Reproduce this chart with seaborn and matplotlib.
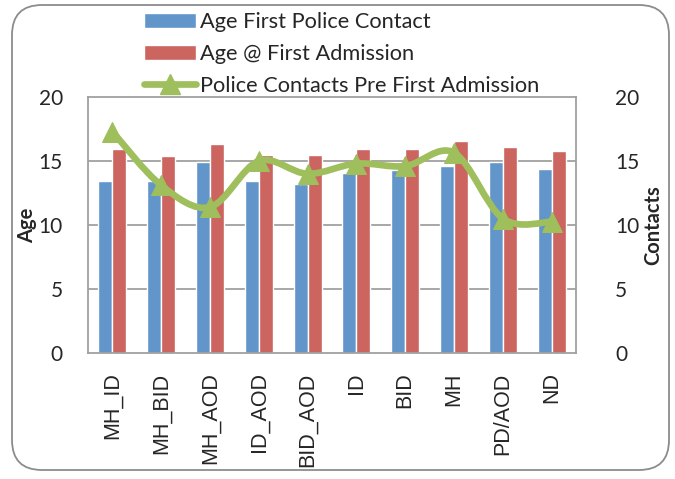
import numpy as np
import pandas as pd
import matplotlib
matplotlib.use('Agg')
import matplotlib.pyplot as plt
import seaborn as sns
from matplotlib.path import Path
from matplotlib.patches import PathPatch, FancyBboxPatch, Patch
from matplotlib.lines import Line2D

groups = ['MH_ID', 'MH_BID', 'MH_AOD', 'ID_AOD', 'BID_AOD', 'ID', 'BID', 'MH', 'PD/AOD', 'ND']
age_first_police = [13.4, 13.4, 14.9, 13.4, 13.2, 14.1, 14.3, 14.6, 14.95, 14.4]
age_first_admission = [15.9, 15.4, 16.3, 15.5, 15.5, 15.9, 15.9, 16.6, 16.1, 15.8]
police_contacts = [17.3, 13.1, 11.4, 15.0, 14.0, 14.8, 14.6, 15.65, 10.5, 10.25]

series_names = ['Age First Police Contact', 'Age @ First Admission', 'Police Contacts Pre First Admission']
blue, red, green = '#6296CA', '#CC645F', '#9FBE5C'
grid_col = '#A0A0A0'

df = pd.DataFrame({
    'group': groups * 2,
    'value': age_first_police + age_first_admission,
    'series': [series_names[0]] * len(groups) + [series_names[1]] * len(groups),
})

sns.set_style('white')
plt.rcParams['font.family'] = ['Lato', 'DejaVu Sans']

fig = plt.figure(figsize=(6.75, 4.79), dpi=100)
ax = fig.add_axes([88 / 675, 1 - 353 / 479, 488 / 675, 256 / 479])

sns.barplot(data=df, x='group', y='value', hue='series', palette=[blue, red],
            width=0.57, gap=0, saturation=1, legend=False, ax=ax, zorder=2)
ax.set_ylim(0, 20)
ax.set_xlim(-0.5, len(groups) - 0.5)
ax.set_yticks([0, 5, 10, 15, 20])
ax.set_xlabel('')
ax.set_ylabel('')
for y in [5, 10, 15]:
    ax.axhline(y, color=grid_col, lw=1.3, zorder=1)
for s in ax.spines.values():
    s.set_color(grid_col)
    s.set_linewidth(1.3)
ax.tick_params(axis='y', length=0, pad=18, labelsize=15)
ax.tick_params(axis='x', length=0, pad=14)
for lab in ax.get_xticklabels():
    lab.set_rotation(90)
    lab.set_fontfamily('Liberation Sans')
    lab.set_fontsize(15.5)
    lab.set_va('top')

# secondary axis for contacts
ax2 = ax.twinx()
ax2.set_ylim(0, 20)
ax2.set_yticks([0, 5, 10, 15, 20])
ax2.tick_params(axis='y', length=0, pad=28, labelsize=15)
for s in ax2.spines.values():
    s.set_visible(False)

# smoothed line through the contact values (Excel-style smooth line)
xs = np.arange(len(groups), dtype=float)
ys = np.array(police_contacts, dtype=float)
verts = [(xs[0], ys[0])]
codes = [Path.MOVETO]
n = len(xs)
for i in range(n - 1):
    p0 = np.array([xs[max(i - 1, 0)], ys[max(i - 1, 0)]])
    p1 = np.array([xs[i], ys[i]])
    p2 = np.array([xs[i + 1], ys[i + 1]])
    p3 = np.array([xs[min(i + 2, n - 1)], ys[min(i + 2, n - 1)]])
    c1 = p1 + (p2 - p0) / 6
    c2 = p2 - (p3 - p1) / 6
    verts += [tuple(c1), tuple(c2), tuple(p2)]
    codes += [Path.CURVE4] * 3
ax2.add_patch(PathPatch(Path(verts, codes), facecolor='none', edgecolor=green,
                        lw=4.8, capstyle='round', joinstyle='round', zorder=3))
sns.lineplot(x=xs, y=ys, ax=ax2, linestyle='', marker='^', markersize=15,
             color=green, markeredgecolor=green, zorder=4)
ax2.set_xlim(-0.5, len(groups) - 0.5)
ax2.set_ylabel('')

fig.text(27 / 675, 1 - 225 / 479, 'Age', rotation=90, ha='center', va='center',
         fontsize=14.5, fontweight='bold')
fig.text(653 / 675, 1 - 225 / 479, 'Contacts', rotation=90, ha='center', va='center',
         fontsize=14.5, fontweight='bold')

handles = [Patch(facecolor=blue), Patch(facecolor=red),
           Line2D([], [], color=green, lw=4.8, marker='^', markersize=15)]
fig.legend(handles, series_names, loc='upper left', bbox_to_anchor=(144 / 675, 1 - 12 / 479),
           frameon=False, fontsize=15.7, handlelength=2.4, handletextpad=0.15,
           labelspacing=0.55, borderpad=0, borderaxespad=0)

frame = FancyBboxPatch((0.12, 0.09), 6.57, 4.65, boxstyle='round,pad=0,rounding_size=0.3',
                       transform=fig.dpi_scale_trans, facecolor='none',
                       edgecolor='#8C8C8C', lw=1.3, zorder=0)
fig.patches.append(frame)

fig.savefig('out.png', dpi=100)
